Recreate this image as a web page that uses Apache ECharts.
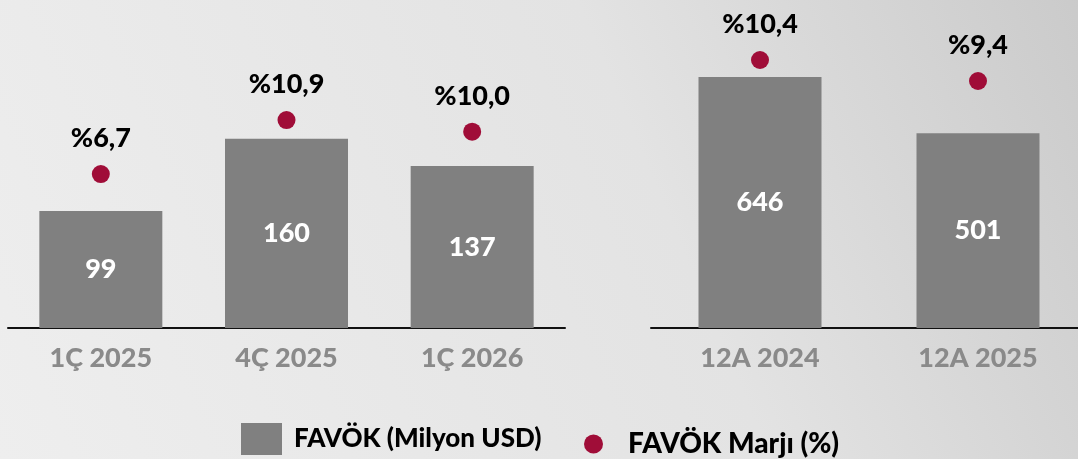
<!DOCTYPE html>
<html>
<head>
<meta charset="utf-8">
<script src="https://cdn.jsdelivr.net/npm/echarts@6/dist/echarts.min.js"></script>
<style>
  html, body { margin: 0; padding: 0; overflow: hidden; }
  /* a bit wider than the window: the right axis line runs off the edge */
  #chart { width: 1090px; height: 459px; }
</style>
</head>
<body>
<div id="chart"></div>
<script>
const leftCats = ['1Ç 2025', '4Ç 2025', '1Ç 2026']
const leftFavok = [99, 160, 137]
const leftMargin = [6.7, 10.9, 10.0]

const rightCats = ['12A 2024', '12A 2025']
const rightFavok = [646, 501]
const rightMargin = [10.4, 9.4]

const BAR_NAME = 'FAVÖK (Milyon USD)'
const DOT_NAME = 'FAVÖK Marjı (%)'
const FONT = 'Lato'
const WEIGHT = 900
const barColor = '#808080'
const dotColor = '#a00d38'

const chart = echarts.init(document.getElementById('chart'))

const pct = v => '%' + v.toFixed(1).replace('.', ',')

function xAxis(gridIndex, data) {
  return {
    type: 'category',
    gridIndex,
    data,
    axisLine: { lineStyle: { color: '#111', width: 2 } },
    axisTick: { show: false },
    axisLabel: { color: '#8a8a8a', fontSize: 27, fontWeight: WEIGHT, fontFamily: FONT, margin: 17 },
  }
}

function yAxis(gridIndex, min, max) {
  return { type: 'value', gridIndex, min, max, show: false, splitLine: { show: false } }
}

function bars(idx, data) {
  return {
    name: BAR_NAME,
    type: 'bar',
    xAxisIndex: idx,
    yAxisIndex: idx * 2,
    data,
    barWidth: 123,
    itemStyle: { color: barColor },
    label: {
      show: true,
      position: 'inside',
      color: '#fff',
      fontSize: 27,
      fontWeight: WEIGHT,
      fontFamily: FONT,
    },
  }
}

function dots(idx, data) {
  return {
    name: DOT_NAME,
    type: 'scatter',
    xAxisIndex: idx,
    yAxisIndex: idx * 2 + 1,
    data,
    symbol: 'circle',
    symbolSize: 18,
    itemStyle: { color: dotColor, opacity: 1 },
    label: {
      show: true,
      position: 'top',
      distance: 13,
      color: '#000',
      fontSize: 27,
      fontWeight: WEIGHT,
      fontFamily: FONT,
      formatter: p => pct(p.value),
    },
  }
}

chart.setOption({
  backgroundColor: new echarts.graphic.LinearGradient(0, 1, 1, 0, [
    { offset: 0, color: '#eeeeee' },
    { offset: 0.6, color: '#e3e3e3' },
    { offset: 1, color: '#cacaca' },
  ]),
  animation: false,
  grid: [
    { left: 8, width: 557, top: 10, bottom: 131 },
    { left: 651, width: 436, top: 10, bottom: 131 },
  ],
  xAxis: [xAxis(0, leftCats), xAxis(1, rightCats)],
  yAxis: [
    yAxis(0, 0, 269),
    yAxis(0, -5.27, 19.46),
    yAxis(1, 0, 818.5),
    yAxis(1, -2.36, 12.78),
  ],
  legend: [
    {
      data: [BAR_NAME],
      left: 241, top: 423,
      padding: 0,
      itemWidth: 41, itemHeight: 32,
      icon: 'rect',
      textStyle: { color: '#000', fontSize: 26, fontWeight: WEIGHT, fontFamily: FONT, padding: [0, 0, 0, 7] },
    },
    {
      data: [DOT_NAME],
      left: 584, top: 430,
      padding: 0,
      itemWidth: 19, itemHeight: 19,
      icon: 'circle',
      itemStyle: { color: dotColor, opacity: 1 },
      textStyle: { color: '#000', fontSize: 28, fontWeight: WEIGHT, fontFamily: FONT, padding: [0, 0, 0, 20] },
    },
  ],
  series: [
    bars(0, leftFavok),
    dots(0, leftMargin),
    bars(1, rightFavok),
    dots(1, rightMargin),
  ],
})
</script>
</body>
</html>
